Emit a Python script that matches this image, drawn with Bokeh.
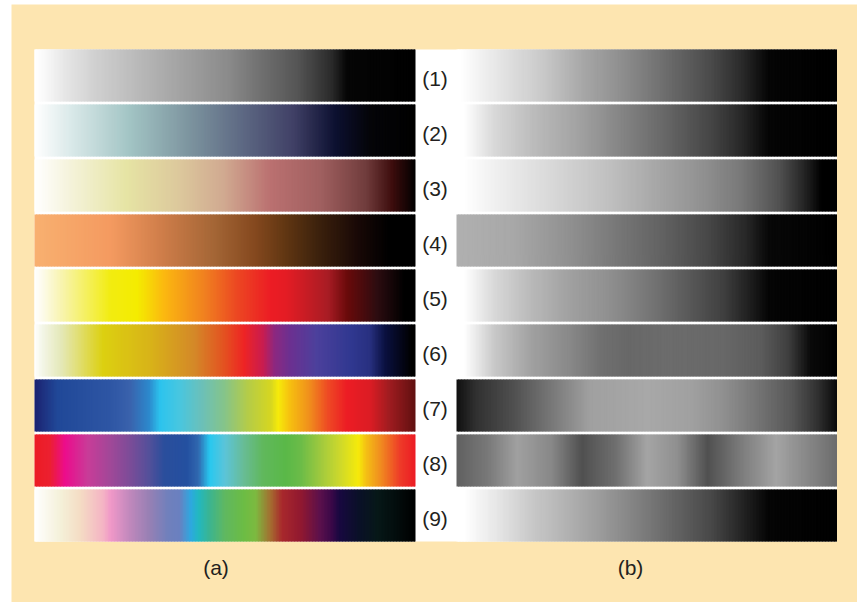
import numpy as np
from bokeh.plotting import figure
from bokeh.models import Range1d, ColumnDataSource
from bokeh.embed import file_html
from bokeh.resources import INLINE
from bokeh.core.properties import value

# ---------------------------------------------------------------------------
# Labels
row_labels = ["(1)", "(2)", "(3)", "(4)", "(5)", "(6)", "(7)", "(8)", "(9)"]
panel_labels = ["(a)", "(b)"]

# ---------------------------------------------------------------------------
# Panel (a): colour maps, stop positions (0..1 along the bar) and colours
a1_t = [0.0, 0.02, 0.08, 0.16, 0.34, 0.51, 0.60, 0.69, 0.78, 0.82, 1.0]
a1_c = ["#ffffff", "#fbfbfb", "#e6e6e6", "#d0d0d0", "#ababab", "#8a8a8a",
        "#6e6e6e", "#555555", "#2a2a2a", "#050505", "#000000"]

a2_t = [0.0, 0.03, 0.10, 0.25, 0.40, 0.56, 0.68, 0.79, 0.88, 1.0]
a2_c = ["#ffffff", "#f4f8f8", "#d8e8e8", "#a2c4c4", "#7e96a0", "#5a6480",
        "#404066", "#0c1030", "#040408", "#000000"]

a3_t = [0.0, 0.03, 0.10, 0.24, 0.38, 0.50, 0.62, 0.75, 0.87, 0.94, 1.0]
a3_c = ["#ffffff", "#fcfbf4", "#f4f2d8", "#e6e4a4", "#dcc89c", "#d0a890",
        "#ba7070", "#a06060", "#703c3c", "#3c0c0c", "#000000"]

a4_t = [0.0, 0.20, 0.33, 0.47, 0.58, 0.66, 0.75, 0.85, 0.93, 1.0]
a4_c = ["#f8b070", "#f49a60", "#d07e4a", "#a46636", "#84481e", "#603612",
        "#3a200c", "#180806", "#000000", "#000000"]

a5_t = [0.0, 0.02, 0.07, 0.20, 0.27, 0.34, 0.45, 0.53, 0.62, 0.66, 0.77,
        0.82, 0.90, 0.97, 1.0]
a5_c = ["#ffffff", "#fdfbec", "#f8f4b0", "#f2ec10", "#f4ec00", "#fbb810",
        "#f07e20", "#ec4822", "#ec1c24", "#e41c24", "#a81c24", "#6a0a0a",
        "#2c0c10", "#000000", "#000000"]

a6_t = [0.0, 0.02, 0.07, 0.18, 0.30, 0.42, 0.50, 0.55, 0.60, 0.63, 0.67,
        0.74, 0.83, 0.88, 0.92, 0.99, 1.0]
a6_c = ["#ffffff", "#f4f6e8", "#e4e8b8", "#dcd010", "#d8b418", "#d48828",
        "#e45020", "#ee2424", "#c81c50", "#8c2880", "#6c3090", "#4c409c",
        "#303890", "#283080", "#0a1040", "#000000", "#000000"]

a7_t = [0.0, 0.06, 0.20, 0.25, 0.30, 0.33, 0.38, 0.44, 0.50, 0.56, 0.62,
        0.64, 0.67, 0.72, 0.77, 0.82, 0.88, 0.93, 1.0]
a7_c = ["#1c2270", "#204898", "#2e56a4", "#3a62ac", "#2c88cc", "#2cc4ee",
        "#48c6e0", "#6cc0b8", "#86c488", "#b4cc48", "#d6d620", "#f6ea0a",
        "#f6c010", "#f0901c", "#ee4a24", "#ec1c24", "#dc1c24", "#a01c20",
        "#601010"]

a8_t = [0.0, 0.04, 0.08, 0.14, 0.20, 0.25, 0.30, 0.34, 0.40, 0.43, 0.46,
        0.50, 0.55, 0.60, 0.66, 0.70, 0.76, 0.80, 0.85, 0.87, 0.91, 0.96, 1.0]
a8_c = ["#ec1c24", "#ec2030", "#ec0c8c", "#c83c98", "#a04898", "#7c4c98",
        "#54509a", "#2a4e9c", "#2450a0", "#3068b0", "#28c8f0", "#5cc4d8",
        "#68bc94", "#60b85c", "#5ab848", "#6cbc48", "#a8cc3c", "#ccd82c",
        "#f6ea0a", "#f4c014", "#f08a20", "#ee3a28", "#ec1c24"]

a9_t = [0.0, 0.07, 0.12, 0.18, 0.20, 0.25, 0.30, 0.35, 0.38, 0.41, 0.43,
        0.46, 0.50, 0.55, 0.58, 0.62, 0.65, 0.70, 0.75, 0.78, 0.80, 0.85,
        0.90, 1.0]
a9_c = ["#ffffff", "#f4f0d8", "#f4dcc4", "#f4b4c4", "#f098c8", "#c088bc",
        "#9880b4", "#7080bc", "#6a80c0", "#2ea8e0", "#22b8c0", "#3cb490",
        "#60b860", "#6cbc44", "#7cba40", "#a46c30", "#a8282c", "#901830",
        "#5a104c", "#3a0848", "#180840", "#0a1028", "#061818", "#000000"]

# Panel (b): grey-level versions of the same maps
b1_t = [0.0, 0.01, 0.10, 0.23, 0.33, 0.45, 0.56, 0.67, 0.75, 0.82, 1.0]
b1_c = ["#ffffff", "#ffffff", "#e8e8e8", "#c8c8c8", "#a8a8a8", "#8a8a8a",
        "#6a6a6a", "#4a4a4a", "#2a2a2a", "#050505", "#000000"]

b2_t = [0.0, 0.02, 0.10, 0.20, 0.33, 0.45, 0.56, 0.67, 0.75, 0.82, 1.0]
b2_c = ["#ffffff", "#ffffff", "#d8d8d8", "#bcbcbc", "#a0a0a0", "#808080",
        "#646464", "#454545", "#282828", "#050505", "#000000"]

b3_t = [0.0, 0.02, 0.10, 0.25, 0.40, 0.52, 0.65, 0.75, 0.85, 0.92, 0.96, 1.0]
b3_c = ["#ffffff", "#ffffff", "#f0f0f0", "#d8d8d8", "#c0c0c0", "#a8a8a8",
        "#909090", "#787878", "#505050", "#202020", "#000000", "#000000"]

b4_t = [0.0, 0.15, 0.30, 0.42, 0.55, 0.66, 0.76, 0.82, 1.0]
b4_c = ["#b0b0b0", "#a8a8a8", "#909090", "#787878", "#606060", "#484848",
        "#282828", "#080808", "#000000"]

b5_t = [0.0, 0.02, 0.10, 0.20, 0.30, 0.40, 0.50, 0.60, 0.70, 0.78, 0.82, 1.0]
b5_c = ["#ffffff", "#ffffff", "#d8d8d8", "#b8b8b8", "#a0a0a0", "#909090",
        "#787878", "#5c5c5c", "#404040", "#1a1a1a", "#050505", "#000000"]

b6_t = [0.0, 0.02, 0.10, 0.20, 0.30, 0.38, 0.45, 0.55, 0.70, 0.80, 0.87,
        0.93, 1.0]
b6_c = ["#ffffff", "#ffffff", "#c8c8c8", "#a0a0a0", "#888888", "#707070",
        "#686868", "#6c6c6c", "#686868", "#5c5c5c", "#404040", "#0a0a0a",
        "#000000"]

b7_t = [0.0, 0.05, 0.15, 0.25, 0.35, 0.50, 0.62, 0.70, 0.78, 0.88, 0.95, 1.0]
b7_c = ["#101010", "#303030", "#505050", "#787878", "#a0a0a0", "#a8a8a8",
        "#a0a0a0", "#909090", "#787878", "#585858", "#303030", "#0a0a0a"]

b8_t = [0.0, 0.08, 0.16, 0.25, 0.33, 0.42, 0.50, 0.58, 0.66, 0.74, 0.84,
        0.92, 1.0]
b8_c = ["#606060", "#787878", "#a0a0a0", "#888888", "#505050", "#707070",
        "#a4a4a4", "#909090", "#505050", "#787878", "#a4a4a4", "#888888",
        "#6c6c6c"]

b9_t = [0.0, 0.02, 0.10, 0.20, 0.33, 0.45, 0.56, 0.67, 0.76, 0.82, 1.0]
b9_c = ["#ffffff", "#ffffff", "#e8e8e8", "#c8c8c8", "#a8a8a8", "#888888",
        "#686868", "#484848", "#202020", "#050505", "#000000"]

panel_a = [(a1_t, a1_c), (a2_t, a2_c), (a3_t, a3_c), (a4_t, a4_c),
           (a5_t, a5_c), (a6_t, a6_c), (a7_t, a7_c), (a8_t, a8_c),
           (a9_t, a9_c)]
panel_b = [(b1_t, b1_c), (b2_t, b2_c), (b3_t, b3_c), (b4_t, b4_c),
           (b5_t, b5_c), (b6_t, b6_c), (b7_t, b7_c), (b8_t, b8_c),
           (b9_t, b9_c)]

# ---------------------------------------------------------------------------
# Geometry (screen pixels, y grows downward)
W, H = 857, 602
PEACH = "#fde5b0"
INK = "#231f20"

A_X0, A_X1 = 34.0, 415.0
B_X0, B_X1 = 456.0, 836.5
ROW_TOP, ROW_STEP, ROW_H = 49.0, 55.0, 52.0
SLICE = 1.5


def hex_to_rgb(h):
    h = h.lstrip("#")
    return np.array([int(h[i:i + 2], 16) for i in (0, 2, 4)], dtype=float)


def ramp(stops_t, stops_c, x0, x1, top):
    """Cut one colour bar into thin vertical slices that overlap their
    right-hand neighbour, so no seams show between them."""
    n = int(round((x1 - x0) / SLICE))
    edges = np.linspace(x0, x1, n + 1)
    mids = (np.arange(n) + 0.5) / n
    rgb = np.array([hex_to_rgb(c) for c in stops_c])
    cols = []
    for t in mids:
        r = np.interp(t, stops_t, rgb[:, 0])
        g = np.interp(t, stops_t, rgb[:, 1])
        b = np.interp(t, stops_t, rgb[:, 2])
        cols.append("#%02x%02x%02x" % (int(round(r)), int(round(g)), int(round(b))))
    rights = np.minimum(edges[1:] + 1.0, x1)
    return dict(left=list(edges[:-1]), right=list(rights),
                top=[top] * n, bottom=[top + ROW_H] * n, color=cols)


data = dict(left=[], right=[], top=[], bottom=[], color=[])
for i in range(9):
    top = ROW_TOP + i * ROW_STEP
    for (st, sc), (x0, x1) in ((panel_a[i], (A_X0, A_X1)), (panel_b[i], (B_X0, B_X1))):
        part = ramp(st, sc, x0, x1, top)
        for k in data:
            data[k].extend(part[k])

p = figure(width=W, height=H, output_backend="svg", toolbar_location=None,
           x_range=Range1d(0, W), y_range=Range1d(H, 0),
           min_border=0, min_border_left=0, min_border_right=0,
           min_border_top=0, min_border_bottom=0)
p.axis.visible = False
p.grid.visible = False
p.outline_line_color = None
p.background_fill_color = "white"
p.border_fill_color = "white"

# peach page and white plate behind the bars
p.quad(left=[11], right=[W], top=[4], bottom=[H], fill_color=PEACH, line_color=None)
p.quad(left=[A_X0], right=[B_X1], top=[ROW_TOP], bottom=[ROW_TOP + 8 * ROW_STEP + ROW_H],
       fill_color="white", line_color=None)

p.quad(left="left", right="right", top="top", bottom="bottom",
       fill_color="color", line_color=None,
       source=ColumnDataSource(data))

# row numbers between the two panels
lab_y = [ROW_TOP + i * ROW_STEP + ROW_H / 2 + 3 for i in range(9)]
p.text(x=[434.5] * 9, y=lab_y, text=row_labels, text_align="center",
       text_baseline="middle", text_font=value("Liberation Sans"),
       text_font_size="21px", text_color=INK)

# panel captions
p.text(x=[215.5, 630.0], y=[567.0, 567.0], text=panel_labels, text_align="center",
       text_baseline="middle", text_font=value("Liberation Sans"),
       text_font_size="21px", text_color=INK)

open("out.html", "w").write(file_html(p, INLINE))
